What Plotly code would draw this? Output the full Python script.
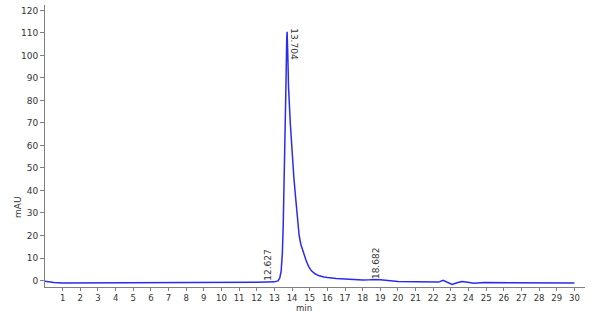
import plotly.graph_objects as go

time_min = [0, 0.5, 1, 2, 3, 4, 5, 6, 7, 8, 9, 10, 11, 12, 12.6, 13.0, 13.2, 13.3,
            13.38, 13.45, 13.5, 13.55, 13.6, 13.65, 13.7, 13.72, 13.76, 13.8, 13.9,
            14.0, 14.1, 14.2, 14.3, 14.4, 14.5, 14.6, 14.7, 14.8, 14.95, 15.1, 15.3,
            15.5, 15.8, 16.0, 16.5, 17.0, 17.5, 18.0, 18.4, 18.7, 19.0, 19.5, 20, 21,
            22, 22.3, 22.56, 22.8, 23.07, 23.35, 23.63, 23.95, 24.3, 24.9, 26, 27, 28,
            29, 30]
signal_mau = [-0.3, -0.9, -1.1, -1.1, -1.0, -0.9, -1.0, -1.1, -1.1, -1.1, -1.0, -0.9,
              -0.9, -0.8, -0.7, -0.6, -0.2, 1.0, 4, 12, 25, 42, 58, 85, 108, 110.5,
              100, 86, 70, 57, 46, 37, 27, 20, 16, 13.5, 11, 8.8, 6, 4.3, 3.0, 2.2,
              1.6, 1.3, 0.9, 0.6, 0.3, 0.2, 0.3, 0.5, 0.3, -0.1, -0.4, -0.6, -0.8,
              -0.7, 0.1, -0.8, -1.7, -1.0, -0.4, -0.8, -1.2, -0.9, -0.9, -0.9, -1.0,
              -1.0, -1.1]

peak_labels = ["12.627", "13.704", "18.682"]
peak_label_x = [12.66, 14.11, 18.72]
peak_label_y = [7.2, 105.0, 7.9]
peak_label_angle = [-90, 90, -90]

x_ticks = list(range(1, 31))
y_ticks = list(range(0, 121, 10))

font = dict(family="DejaVu Sans", size=9, color="#333333")

fig = go.Figure()
fig.add_trace(go.Scatter(x=time_min, y=signal_mau, mode="lines",
                         line=dict(color="#2b2bf0", width=1.5), showlegend=False,
                         hoverinfo="skip"))

for t, x, y, a in zip(peak_labels, peak_label_x, peak_label_y, peak_label_angle):
    fig.add_annotation(x=x, y=y, text=t, textangle=a, showarrow=False, font=font)

axis_common = dict(showgrid=False, zeroline=False, showline=True, linecolor="#808080",
                   linewidth=1, ticks="outside", tickcolor="#808080",
                   automargin=False)

fig.update_layout(
    width=600, height=314,
    margin=dict(l=45, r=15, t=5, b=27),
    paper_bgcolor="white", plot_bgcolor="white",
    xaxis=dict(range=[0, 30.6], tickvals=x_ticks, ticklen=3, ticklabelstandoff=0,
               tickfont=dict(font, size=8.5), **axis_common),
    yaxis=dict(range=[-2.88, 122.4], tickvals=y_ticks, ticklen=4, tickfont=font,
               **axis_common),
)

# axis titles placed relative to the plot area
pw, ph = 600 - 45 - 15, 314 - 5 - 27
fig.add_annotation(x=(304 - 45) / pw, y=(287 - 314) / ph, xref="paper", yref="paper",
                   text="min", showarrow=False, font=dict(font, size=8.5),
                   xanchor="center", yanchor="bottom", borderpad=0)
fig.add_annotation(x=(18 - 45) / pw, y=(287 - 207) / ph, xref="paper", yref="paper",
                   text="mAU", textangle=-90, showarrow=False, font=font,
                   xanchor="center", yanchor="middle")

fig.write_html("out.html")
